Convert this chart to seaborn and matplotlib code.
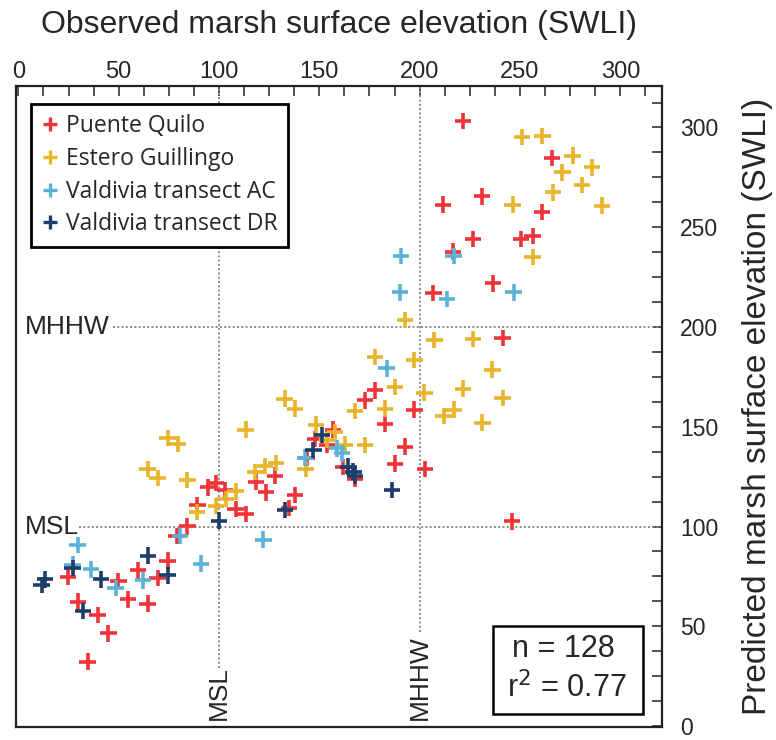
import pandas as pd
import numpy as np
import matplotlib
matplotlib.use('Agg')
import matplotlib.pyplot as plt
from matplotlib.lines import Line2D
from matplotlib.patches import Rectangle
from matplotlib.ticker import MultipleLocator
import seaborn as sns

# Sites and colours
sites = ['Puente Quilo', 'Estero Guillingo', 'Valdivia transect AC', 'Valdivia transect DR']
site_colors = ['#EF3338', '#E8B52A', '#5CB1D6', '#1D3E6B']

# Tidal reference levels (SWLI)
msl = 100
mhhw = 200

# Observed (x) vs predicted (y) SWLI
pq_obs = [221.5, 265.9, 231.0, 211.6, 260.9, 226.5, 250.5, 256.3, 216.6, 236.5,
          206.9, 241.3, 177.8, 172.8, 197.4, 182.8, 192.8, 187.8, 202.7, 162.0,
          167.8, 156.9, 147.9, 153.7, 143.7, 137.9, 127.9, 118.3, 123.3, 94.7,
          98.5, 103.0, 89.2, 108.3, 113.3, 84.2, 78.9, 74.4, 59.5, 69.4,
          49.8, 24.8, 29.8, 54.5, 64.4, 39.5, 44.8, 34.5, 246.0, 134.9]
pq_pred = [303.2, 284.6, 265.5, 261.3, 257.7, 244.2, 244.2, 245.5, 237.8, 221.9,
           217.0, 194.5, 168.2, 163.2, 158.6, 151.4, 140.0, 131.5, 128.8, 129.7,
           123.9, 148.6, 143.8, 140.8, 134.2, 115.9, 125.5, 122.5, 117.1, 119.6,
           121.7, 118.4, 110.9, 108.9, 106.2, 100.1, 95.1, 82.9, 78.0, 74.3,
           72.7, 74.7, 62.3, 63.5, 61.3, 55.7, 46.4, 32.3, 102.6, 109.2]

eg_obs = [251.0, 261.2, 276.2, 271.2, 285.9, 280.9, 266.4, 246.3, 290.9, 256.3,
          192.8, 207.4, 226.5, 177.8, 197.4, 236.3, 187.8, 202.4, 221.5, 241.3,
          167.8, 182.8, 211.9, 216.9, 231.3, 157.9, 162.8, 172.8, 137.9, 148.2,
          153.7, 143.2, 132.7, 113.3, 74.4, 79.4, 64.4, 69.4, 84.2, 118.1,
          122.9, 128.4, 108.3, 103.3, 98.4, 89.0]
eg_pred = [295.1, 295.8, 285.9, 277.5, 280.0, 271.3, 267.5, 261.3, 260.8, 235.1,
           203.6, 193.5, 194.0, 184.9, 183.5, 178.6, 169.9, 167.1, 169.1, 164.4,
           157.8, 159.1, 155.5, 158.6, 152.1, 147.5, 141.1, 140.8, 159.1, 151.1,
           143.3, 128.8, 164.1, 148.6, 144.3, 141.3, 128.8, 124.3, 123.2, 127.4,
           130.2, 131.9, 117.6, 113.9, 110.2, 107.2]

ac_obs = [190.3, 213.6, 246.8, 190.6, 216.9, 183.5, 158.9, 161.3, 142.9, 122.1,
          80.5, 91.0, 29.5, 27.0, 36.2, 48.5, 62.2]
ac_pred = [217.3, 214.0, 217.3, 235.6, 235.6, 179.3, 139.2, 136.7, 134.5, 93.4,
           95.3, 81.4, 90.6, 80.9, 78.5, 69.3, 73.0]

dr_obs = [151.2, 147.0, 164.5, 167.0, 167.8, 186.1, 132.9, 100.0, 64.7, 74.4,
          41.1, 27.0, 13.2, 11.6, 32.3]
dr_pred = [145.9, 138.3, 130.0, 127.5, 125.5, 118.2, 108.4, 102.9, 85.4, 75.5,
           73.5, 79.3, 73.5, 70.7, 57.7]

frames = []
for name, xs, ys in zip(sites, [pq_obs, eg_obs, ac_obs, dr_obs], [pq_pred, eg_pred, ac_pred, dr_pred]):
    frames.append(pd.DataFrame({'obs': xs, 'pred': ys, 'site': name}))
df = pd.concat(frames, ignore_index=True)
palette = dict(zip(sites, site_colors))

sns.set_style('white')
plt.rcParams['font.family'] = ['Liberation Sans', 'DejaVu Sans']

fig = plt.figure(figsize=(7.76, 7.40), dpi=100)
ax = fig.add_axes([16 / 776, 13 / 740, 646 / 776, 641 / 740])

sns.scatterplot(data=df, x='obs', y='pred', hue='site', hue_order=sites, palette=palette,
                marker='+', s=140, linewidth=2.6, ax=ax, legend=False, zorder=3)

ax.set_xlim(-1.2, 320.8)
ax.set_ylim(-0.5, 320.8)

# Dotted tidal-level lines with labels
dot = dict(color='#8a8a8a', linestyle=(0, (1, 1.2)), linewidth=1.4, zorder=1)
ax.plot([msl, msl], [29, 320.8], **dot)
ax.plot([mhhw, mhhw], [47, 320.8], **dot)
ax.plot([30, 320.8], [msl, msl], **dot)
ax.plot([47, 320.8], [mhhw, mhhw], **dot)
ax.text(3, mhhw, 'MHHW', fontsize=19, ha='left', va='center')
ax.text(3, msl, 'MSL', fontsize=19, ha='left', va='center')
ax.text(msl, 3, 'MSL', fontsize=19, ha='center', va='bottom', rotation=90)
ax.text(mhhw, 3, 'MHHW', fontsize=19, ha='center', va='bottom', rotation=90)

# Axis styling: ticks on top and right, pointing in
ax.xaxis.tick_top()
ax.xaxis.set_label_position('top')
ax.yaxis.tick_right()
ax.yaxis.set_label_position('right')
ax.set_xticks(np.arange(0, 301, 50))
ax.set_yticks(np.arange(0, 301, 50))
ax.xaxis.set_minor_locator(MultipleLocator(12.5))
ax.yaxis.set_minor_locator(MultipleLocator(12.5))
ax.tick_params(axis='x', which='both', direction='in', length=7, width=1.2, color='#333333',
               top=True, bottom=False, labeltop=True, labelbottom=False, labelsize=17, pad=2)
ax.tick_params(axis='y', which='both', direction='in', length=7, width=1.2, color='#333333',
               right=True, left=False, labelright=True, labelleft=False, labelsize=16.5, pad=13)
for sp in ax.spines.values():
    sp.set_color('#222222')
    sp.set_linewidth(1.6)

ax.set_xlabel('Observed marsh surface elevation (SWLI)', fontsize=23, labelpad=20)
ax.set_ylabel('Predicted marsh surface elevation (SWLI)', fontsize=24, labelpad=17)

# Legend
handles = [Line2D([], [], marker='+', linestyle='', color=c, markersize=10, markeredgewidth=2.4)
           for c in site_colors]
leg = ax.legend(handles, sites, loc='upper left', bbox_to_anchor=(0.023, 0.972), borderaxespad=0,
                frameon=True, fancybox=False, framealpha=1, edgecolor='black',
                prop={'family': 'Open Sans', 'size': 16.5}, handlelength=0.8, handletextpad=0.3,
                labelspacing=0.38, borderpad=0.45)
leg.get_frame().set_linewidth(2)
leg.set_zorder(5)

# n / r^2 box
ax.add_patch(Rectangle((0.738, 0.020), 0.233, 0.138, transform=ax.transAxes,
                       facecolor='white', edgecolor='black', linewidth=1.8, zorder=4))
ax.text(0.848, 0.122, 'n = 128', transform=ax.transAxes, fontsize=22, ha='center', va='center', zorder=5)
ax.text(0.852, 0.060, 'r$^2$ = 0.77', transform=ax.transAxes, fontsize=22, ha='center', va='center', zorder=5)

fig.savefig('out.png', dpi=100)
